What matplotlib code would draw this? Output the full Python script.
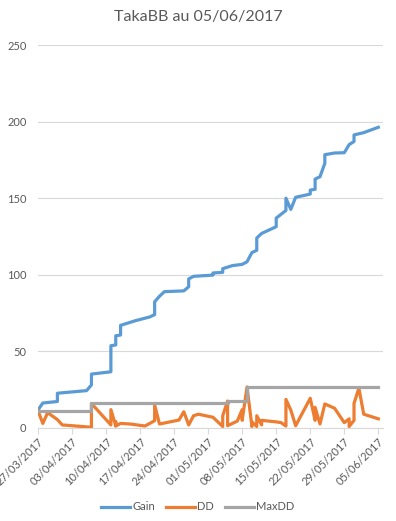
import matplotlib
matplotlib.use("Agg")
import matplotlib.pyplot as plt
import matplotlib.dates as mdates
import pandas as pd

start = pd.Timestamp("2017-03-27")

gain_days = [0, 1, 4, 4, 10, 11, 11, 15, 15, 16, 16, 17, 17, 20, 23, 24, 24, 25, 26, 30,
             31, 31, 32, 36, 36, 38, 38, 40, 42, 43, 44, 45, 45, 46, 49, 49, 51, 51, 52, 53,
             56, 56, 57, 57, 58, 59, 59, 61, 63, 64, 65, 65, 67, 70]
gain = [11.7, 16.3, 17.3, 22.7, 24.4, 28.1, 35.2, 36.7, 53.7, 54.2, 60.2, 60.7, 67.0, 70.0,
        72.5, 74.0, 82.4, 86.0, 89.0, 89.5, 92.2, 97.3, 99.0, 99.8, 101.2, 101.6, 104.0,
        106.0, 106.8, 108.5, 114.5, 116.0, 124.0, 127.0, 131.4, 137.0, 142.0, 150.0, 142.7,
        150.6, 152.7, 155.3, 155.8, 162.5, 164.0, 172.8, 178.4, 179.5, 179.7, 185.0, 187.0,
        191.3, 192.8, 196.3]

dd_days = [0, 1, 2, 4, 5, 11, 11, 15, 15, 16, 16, 16, 17, 19, 22, 23, 24, 24, 25, 29, 30, 31,
           32, 33, 36, 38, 38, 39, 39, 41, 42, 42, 43, 44, 44, 45, 45, 46, 46, 49, 50, 51, 51,
           52, 53, 56, 57, 57, 58, 59, 61, 63, 64, 64, 65, 65, 66, 67, 70]
dd = [11.3, 3.0, 10.0, 5.5, 2.0, 0.5, 16.0, 2.0, 12.0, 1.5, 4.0, 1.3, 3.0, 2.6, 1.3, 3.0, 4.8,
      15.0, 2.6, 5.2, 10.6, 2.0, 8.0, 9.0, 7.0, 1.0, 8.0, 17.6, 1.5, 4.5, 12.0, 5.0, 26.8, 1.0,
      4.0, 1.0, 8.0, 2.0, 5.0, 4.0, 3.5, 1.3, 18.7, 11.7, 1.5, 19.4, 5.0, 13.5, 2.6, 15.7, 12.9,
      3.5, 6.0, 1.0, 5.0, 16.0, 26.0, 9.0, 6.0]

maxdd_days = [0, 11, 11, 39, 39, 43, 43, 70]
maxdd = [11.3, 11.3, 16.0, 16.0, 17.6, 17.6, 26.8, 26.8]

title = "TakaBB au 05/06/2017"
series_names = ["Gain", "DD", "MaxDD"]
colors = ["#5B9BD5", "#ED7D31", "#A5A5A5"]

def to_dates(days):
    return [start + pd.Timedelta(days=d) for d in days]

plt.rcParams['font.family'] = ['Lato', 'DejaVu Sans']
txt = "#595959"

fig = plt.figure(figsize=(3.96, 5.21), dpi=100)
ax = fig.add_axes([37.7 / 396, 1 - 428 / 521, (382.7 - 37.7) / 396, (428 - 45) / 521])

lw = 2.3
ax.plot(to_dates(gain_days), gain, color=colors[0], lw=lw, label=series_names[0],
        solid_joinstyle='round', zorder=3)
ax.plot(to_dates(dd_days), dd, color=colors[1], lw=lw, label=series_names[1],
        solid_joinstyle='round', zorder=4)
ax.plot(to_dates(maxdd_days), maxdd, color=colors[2], lw=lw, label=series_names[2],
        solid_joinstyle='round', zorder=5)

ax.set_ylim(0, 250)
ax.set_yticks(range(0, 251, 50))
ax.set_xlim(start - pd.Timedelta(days=0.05), start + pd.Timedelta(days=70.9))
ticks = [start + pd.Timedelta(days=7 * i) for i in range(11)]
ax.set_xticks(ticks)
ax.xaxis.set_major_formatter(mdates.DateFormatter("%d/%m/%Y"))
for lab in ax.get_xticklabels():
    lab.set_rotation(45)
    lab.set_ha('right')
    lab.set_va('top')
    lab.set_rotation_mode('anchor')

ax.grid(axis='y', color="#D9D9D9", lw=0.8)
ax.set_axisbelow(True)
for s in ['top', 'right', 'left']:
    ax.spines[s].set_visible(False)
ax.spines['bottom'].set_color("#D9D9D9")
ax.spines['bottom'].set_linewidth(0.8)
ax.tick_params(axis='y', length=0, labelsize=8, labelcolor=txt, pad=8)
ax.tick_params(axis='x', length=4, width=0.8, color="#D9D9D9", labelsize=8,
               labelcolor=txt, pad=2)

fig.text(0.5, 1 - 17 / 521, title, ha='center', va='center', fontsize=11.5, color=txt)

fig.legend(loc='center', bbox_to_anchor=(0.5, 1 - 507 / 521), ncol=3, frameon=False,
           fontsize=8, labelcolor=txt, handlelength=2.6, handletextpad=0.2,
           columnspacing=1.0)

fig.savefig("out.png", dpi=100)
